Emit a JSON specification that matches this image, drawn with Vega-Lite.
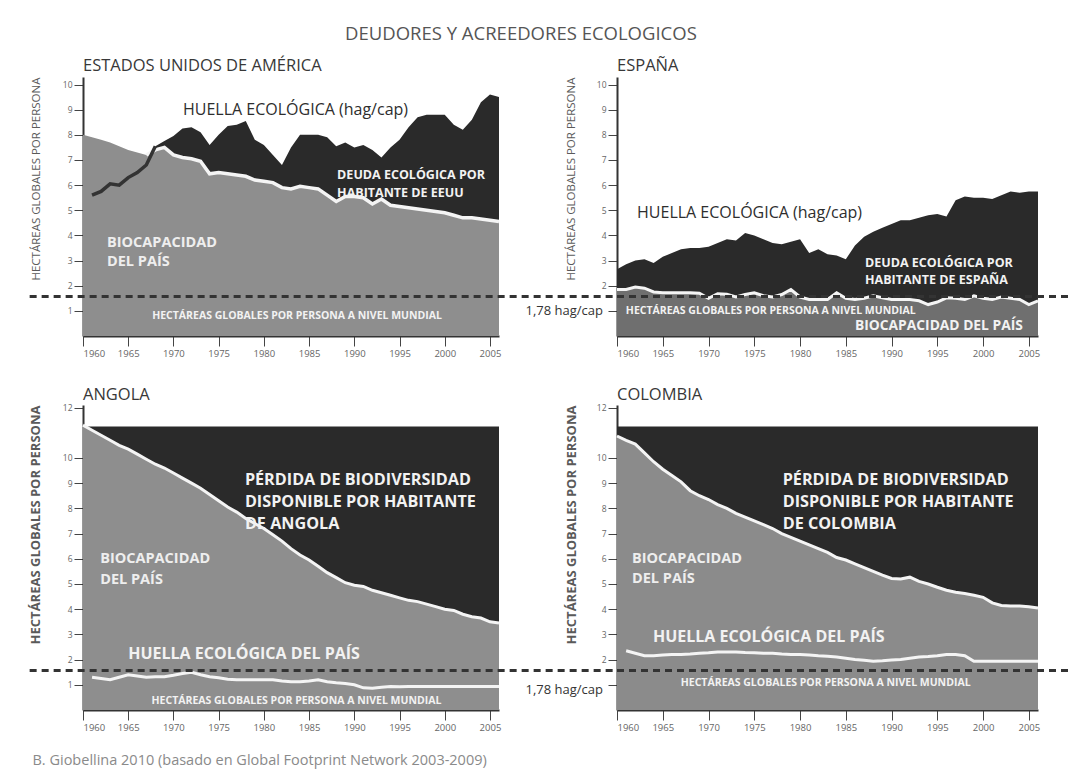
{
  "$schema": "https://vega.github.io/schema/vega-lite/v6.json",
  "background": "white",
  "padding": {"left": 28, "top": 25, "right": 0, "bottom": 2},
  "bounds": "flush",
  "columns": 2,
  "spacing": {"row": 69, "column": 118},
  "title": {"text": "DEUDORES Y ACREEDORES ECOLOGICOS", "anchor": "middle", "frame": "bounds", "dx": -28, "offset": 14, "fontSize": 18.5, "fontWeight": "normal", "color": "#555555", "font": "Open Sans"},
  "datasets": {
    "usa": [
      {"year": 1960, "bio": 8.0, "foot": null},
      {"year": 1961, "bio": 7.9, "foot": 5.6},
      {"year": 1962, "bio": 7.8, "foot": 5.75},
      {"year": 1963, "bio": 7.7, "foot": 6.05},
      {"year": 1964, "bio": 7.55, "foot": 6.0},
      {"year": 1965, "bio": 7.4, "foot": 6.3},
      {"year": 1966, "bio": 7.3, "foot": 6.5},
      {"year": 1967, "bio": 7.2, "foot": 6.8},
      {"year": 1968, "bio": 7.4, "foot": 7.55},
      {"year": 1969, "bio": 7.5, "foot": 7.75},
      {"year": 1970, "bio": 7.2, "foot": 7.95},
      {"year": 1971, "bio": 7.1, "foot": 8.25},
      {"year": 1972, "bio": 7.05, "foot": 8.3},
      {"year": 1973, "bio": 6.95, "foot": 8.1},
      {"year": 1974, "bio": 6.45, "foot": 7.6},
      {"year": 1975, "bio": 6.5, "foot": 8.0},
      {"year": 1976, "bio": 6.45, "foot": 8.35},
      {"year": 1977, "bio": 6.4, "foot": 8.4},
      {"year": 1978, "bio": 6.35, "foot": 8.55},
      {"year": 1979, "bio": 6.2, "foot": 7.8},
      {"year": 1980, "bio": 6.15, "foot": 7.6},
      {"year": 1981, "bio": 6.1, "foot": 7.2},
      {"year": 1982, "bio": 5.9, "foot": 6.8},
      {"year": 1983, "bio": 5.85, "foot": 7.5},
      {"year": 1984, "bio": 5.95, "foot": 8.0},
      {"year": 1985, "bio": 5.9, "foot": 8.0},
      {"year": 1986, "bio": 5.85, "foot": 8.0},
      {"year": 1987, "bio": 5.6, "foot": 7.9},
      {"year": 1988, "bio": 5.35, "foot": 7.55},
      {"year": 1989, "bio": 5.55, "foot": 7.7},
      {"year": 1990, "bio": 5.55, "foot": 7.5},
      {"year": 1991, "bio": 5.5, "foot": 7.6},
      {"year": 1992, "bio": 5.25, "foot": 7.4},
      {"year": 1993, "bio": 5.45, "foot": 7.1},
      {"year": 1994, "bio": 5.2, "foot": 7.5},
      {"year": 1995, "bio": 5.15, "foot": 7.8},
      {"year": 1996, "bio": 5.1, "foot": 8.3},
      {"year": 1997, "bio": 5.05, "foot": 8.7},
      {"year": 1998, "bio": 5.0, "foot": 8.8},
      {"year": 1999, "bio": 4.95, "foot": 8.8},
      {"year": 2000, "bio": 4.9, "foot": 8.8},
      {"year": 2001, "bio": 4.8, "foot": 8.4},
      {"year": 2002, "bio": 4.7, "foot": 8.2},
      {"year": 2003, "bio": 4.7, "foot": 8.6},
      {"year": 2004, "bio": 4.65, "foot": 9.3},
      {"year": 2005, "bio": 4.6, "foot": 9.6},
      {"year": 2006, "bio": 4.55, "foot": 9.5}
    ],
    "esp": [
      {"year": 1960, "bio": 1.85, "foot": 2.65},
      {"year": 1961, "bio": 1.85, "foot": 2.85},
      {"year": 1962, "bio": 1.95, "foot": 3.0},
      {"year": 1963, "bio": 1.9, "foot": 3.05},
      {"year": 1964, "bio": 1.75, "foot": 2.9},
      {"year": 1965, "bio": 1.72, "foot": 3.15},
      {"year": 1966, "bio": 1.72, "foot": 3.3},
      {"year": 1967, "bio": 1.72, "foot": 3.45},
      {"year": 1968, "bio": 1.72, "foot": 3.5},
      {"year": 1969, "bio": 1.7, "foot": 3.5},
      {"year": 1970, "bio": 1.5, "foot": 3.55},
      {"year": 1971, "bio": 1.68, "foot": 3.7},
      {"year": 1972, "bio": 1.66, "foot": 3.85},
      {"year": 1973, "bio": 1.55, "foot": 3.8},
      {"year": 1974, "bio": 1.65, "foot": 4.1},
      {"year": 1975, "bio": 1.72, "foot": 4.0},
      {"year": 1976, "bio": 1.6, "foot": 3.85},
      {"year": 1977, "bio": 1.55, "foot": 3.7},
      {"year": 1978, "bio": 1.65, "foot": 3.65},
      {"year": 1979, "bio": 1.85, "foot": 3.75},
      {"year": 1980, "bio": 1.55, "foot": 3.85},
      {"year": 1981, "bio": 1.45, "foot": 3.3},
      {"year": 1982, "bio": 1.45, "foot": 3.45},
      {"year": 1983, "bio": 1.45, "foot": 3.25},
      {"year": 1984, "bio": 1.72, "foot": 3.2},
      {"year": 1985, "bio": 1.5, "foot": 3.05},
      {"year": 1986, "bio": 1.45, "foot": 3.6},
      {"year": 1987, "bio": 1.5, "foot": 3.95},
      {"year": 1988, "bio": 1.6, "foot": 4.15},
      {"year": 1989, "bio": 1.52, "foot": 4.3},
      {"year": 1990, "bio": 1.45, "foot": 4.45},
      {"year": 1991, "bio": 1.45, "foot": 4.6},
      {"year": 1992, "bio": 1.45, "foot": 4.6},
      {"year": 1993, "bio": 1.4, "foot": 4.7},
      {"year": 1994, "bio": 1.25, "foot": 4.8},
      {"year": 1995, "bio": 1.35, "foot": 4.85},
      {"year": 1996, "bio": 1.52, "foot": 4.75},
      {"year": 1997, "bio": 1.5, "foot": 5.4},
      {"year": 1998, "bio": 1.45, "foot": 5.55},
      {"year": 1999, "bio": 1.6, "foot": 5.5},
      {"year": 2000, "bio": 1.5, "foot": 5.5},
      {"year": 2001, "bio": 1.45, "foot": 5.45},
      {"year": 2002, "bio": 1.55, "foot": 5.6},
      {"year": 2003, "bio": 1.5, "foot": 5.75},
      {"year": 2004, "bio": 1.45, "foot": 5.7},
      {"year": 2005, "bio": 1.25, "foot": 5.75},
      {"year": 2006, "bio": 1.4, "foot": 5.75}
    ],
    "ago": [
      {"year": 1960, "bio": 11.3, "foot": null},
      {"year": 1961, "bio": 11.1, "foot": 1.3},
      {"year": 1962, "bio": 10.9, "foot": 1.25},
      {"year": 1963, "bio": 10.7, "foot": 1.2},
      {"year": 1964, "bio": 10.5, "foot": 1.3},
      {"year": 1965, "bio": 10.35, "foot": 1.4},
      {"year": 1966, "bio": 10.15, "foot": 1.35},
      {"year": 1967, "bio": 9.95, "foot": 1.3},
      {"year": 1968, "bio": 9.75, "foot": 1.32},
      {"year": 1969, "bio": 9.6, "foot": 1.32},
      {"year": 1970, "bio": 9.4, "foot": 1.38},
      {"year": 1971, "bio": 9.2, "foot": 1.45},
      {"year": 1972, "bio": 9.0, "foot": 1.5},
      {"year": 1973, "bio": 8.8, "foot": 1.4},
      {"year": 1974, "bio": 8.55, "foot": 1.32},
      {"year": 1975, "bio": 8.3, "foot": 1.28},
      {"year": 1976, "bio": 8.05, "foot": 1.22},
      {"year": 1977, "bio": 7.85, "foot": 1.2},
      {"year": 1978, "bio": 7.6, "foot": 1.2},
      {"year": 1979, "bio": 7.4, "foot": 1.2},
      {"year": 1980, "bio": 7.2, "foot": 1.2},
      {"year": 1981, "bio": 6.95, "foot": 1.2},
      {"year": 1982, "bio": 6.7, "foot": 1.15},
      {"year": 1983, "bio": 6.4, "foot": 1.12},
      {"year": 1984, "bio": 6.15, "foot": 1.12},
      {"year": 1985, "bio": 5.95, "foot": 1.15},
      {"year": 1986, "bio": 5.7, "foot": 1.2},
      {"year": 1987, "bio": 5.45, "foot": 1.12},
      {"year": 1988, "bio": 5.25, "foot": 1.08},
      {"year": 1989, "bio": 5.05, "foot": 1.05},
      {"year": 1990, "bio": 4.95, "foot": 1.0},
      {"year": 1991, "bio": 4.9, "foot": 0.88},
      {"year": 1992, "bio": 4.75, "foot": 0.86},
      {"year": 1993, "bio": 4.65, "foot": 0.9},
      {"year": 1994, "bio": 4.55, "foot": 0.93},
      {"year": 1995, "bio": 4.45, "foot": 0.92},
      {"year": 1996, "bio": 4.35, "foot": 0.93},
      {"year": 1997, "bio": 4.3, "foot": 0.93},
      {"year": 1998, "bio": 4.2, "foot": 0.93},
      {"year": 1999, "bio": 4.1, "foot": 0.93},
      {"year": 2000, "bio": 4.0, "foot": 0.93},
      {"year": 2001, "bio": 3.95, "foot": 0.93},
      {"year": 2002, "bio": 3.8, "foot": 0.93},
      {"year": 2003, "bio": 3.7, "foot": 0.93},
      {"year": 2004, "bio": 3.65, "foot": 0.93},
      {"year": 2005, "bio": 3.5, "foot": 0.93},
      {"year": 2006, "bio": 3.45, "foot": 0.93}
    ],
    "col": [
      {"year": 1960, "bio": 10.87, "foot": null},
      {"year": 1961, "bio": 10.7, "foot": 2.35},
      {"year": 1962, "bio": 10.55, "foot": 2.25},
      {"year": 1963, "bio": 10.2, "foot": 2.15},
      {"year": 1964, "bio": 9.85, "foot": 2.15},
      {"year": 1965, "bio": 9.55, "foot": 2.18},
      {"year": 1966, "bio": 9.3, "foot": 2.2},
      {"year": 1967, "bio": 9.05, "foot": 2.2},
      {"year": 1968, "bio": 8.7, "foot": 2.22},
      {"year": 1969, "bio": 8.5, "foot": 2.25},
      {"year": 1970, "bio": 8.35, "foot": 2.27},
      {"year": 1971, "bio": 8.15, "foot": 2.3},
      {"year": 1972, "bio": 8.0, "foot": 2.3},
      {"year": 1973, "bio": 7.8, "foot": 2.3},
      {"year": 1974, "bio": 7.65, "foot": 2.28},
      {"year": 1975, "bio": 7.5, "foot": 2.27},
      {"year": 1976, "bio": 7.35, "foot": 2.25},
      {"year": 1977, "bio": 7.2, "foot": 2.25},
      {"year": 1978, "bio": 7.0, "foot": 2.22},
      {"year": 1979, "bio": 6.85, "foot": 2.2},
      {"year": 1980, "bio": 6.7, "foot": 2.2},
      {"year": 1981, "bio": 6.55, "foot": 2.18},
      {"year": 1982, "bio": 6.4, "foot": 2.15},
      {"year": 1983, "bio": 6.25, "foot": 2.13},
      {"year": 1984, "bio": 6.05, "foot": 2.1},
      {"year": 1985, "bio": 5.95, "foot": 2.05},
      {"year": 1986, "bio": 5.8, "foot": 2.0},
      {"year": 1987, "bio": 5.65, "foot": 1.97},
      {"year": 1988, "bio": 5.5, "foot": 1.93},
      {"year": 1989, "bio": 5.35, "foot": 1.95},
      {"year": 1990, "bio": 5.22, "foot": 1.98},
      {"year": 1991, "bio": 5.2, "foot": 2.0},
      {"year": 1992, "bio": 5.27, "foot": 2.05},
      {"year": 1993, "bio": 5.1, "foot": 2.1},
      {"year": 1994, "bio": 5.0, "foot": 2.12},
      {"year": 1995, "bio": 4.87, "foot": 2.15},
      {"year": 1996, "bio": 4.75, "foot": 2.2},
      {"year": 1997, "bio": 4.67, "foot": 2.2},
      {"year": 1998, "bio": 4.62, "foot": 2.15},
      {"year": 1999, "bio": 4.55, "foot": 1.93},
      {"year": 2000, "bio": 4.47, "foot": 1.93},
      {"year": 2001, "bio": 4.25, "foot": 1.93},
      {"year": 2002, "bio": 4.15, "foot": 1.93},
      {"year": 2003, "bio": 4.13, "foot": 1.93},
      {"year": 2004, "bio": 4.13, "foot": 1.93},
      {"year": 2005, "bio": 4.1, "foot": 1.93},
      {"year": 2006, "bio": 4.05, "foot": 1.93}
    ]
  },
  "concat": [
    {
      "width": 416, "height": 259,
      "title": {"text": "ESTADOS UNIDOS DE AMÉRICA", "anchor": "start", "frame": "group", "offset": 3, "fontSize": 16.5, "fontWeight": "normal", "color": "#383838", "font": "Open Sans"},
      "data": {"name": "usa"},
      "layer": [
        {"mark": {"type": "area", "color": "#8e8e8e"},
         "encoding": {
           "x": {"field": "year", "type": "quantitative", "scale": {"domain": [1960, 2006], "nice": false, "zero": false},
                 "axis": {"title": null, "values": [1960, 1965, 1970, 1975, 1980, 1985, 1990, 1995, 2000, 2005], "tickCount": 50, "format": "d", "tickSize": 10, "labelFontSize": 9.5, "labelPadding": 2, "labelOverlap": false}},
           "y": {"field": "bio", "type": "quantitative", "scale": {"domain": [0, 10.3], "nice": false},
                 "axis": {"title": "HECTÁREAS GLOBALES POR PERSONA", "titleFontSize": 11.5, "titleAnchor": "end", "titlePadding": 21, "values": [1, 2, 3, 4, 5, 6, 7, 8, 9, 10], "tickCount": 50, "format": "d", "tickSize": 9, "labelFontSize": 8.5, "labelPadding": 2, "labelOverlap": false}}}},
        {"transform": [{"filter": "datum.year >= 1968"}],
         "mark": {"type": "area", "color": "#2a2a2a"},
         "encoding": {"x": {"field": "year", "type": "quantitative"}, "y": {"field": "bio", "type": "quantitative"}, "y2": {"field": "foot"}}},
        {"transform": [{"filter": "datum.year >= 1967"}],
         "mark": {"type": "line", "color": "#f4f4f4", "strokeWidth": 3.5},
         "encoding": {"x": {"field": "year", "type": "quantitative"}, "y": {"field": "bio", "type": "quantitative"}}},
        {"transform": [{"filter": "datum.year <= 1968 && datum.foot != null"}],
         "mark": {"type": "line", "color": "#333333", "strokeWidth": 3.5},
         "encoding": {"x": {"field": "year", "type": "quantitative"}, "y": {"field": "foot", "type": "quantitative"}}},
        {"data": {"values": [{}]},
         "mark": {"type": "rule", "strokeDash": [7, 5], "strokeWidth": 3, "color": "#333333"},
         "encoding": {"x": {"datum": 1954.1}, "x2": {"datum": 2019.2}, "y": {"datum": 1.57}}},
        {"data": {"values": [{}]},
         "mark": {"type": "text", "text": "HUELLA ECOLÓGICA (hag/cap)", "align": "left", "baseline": "middle", "font": "Open Sans", "fontSize": 16, "color": "#2e2e2e"},
         "encoding": {"x": {"datum": 1971.06}, "y": {"datum": 9.0}}},
        {"data": {"values": [{}]},
         "mark": {"type": "text", "text": ["DEUDA ECOLÓGICA POR", "HABITANTE DE EEUU"], "lineHeight": 18, "align": "left", "baseline": "middle", "font": "Open Sans", "fontWeight": "bold", "fontSize": 12.5, "color": "#f2f2f2"},
         "encoding": {"x": {"datum": 1988.1}, "y": {"datum": 6.41}}},
        {"data": {"values": [{}]},
         "mark": {"type": "text", "text": ["BIOCAPACIDAD", "DEL PAÍS"], "lineHeight": 19, "align": "left", "baseline": "middle", "font": "Open Sans", "fontWeight": "bold", "fontSize": 14.5, "color": "#eeeeee"},
         "encoding": {"x": {"datum": 1962.65}, "y": {"datum": 3.69}}},
        {"data": {"values": [{}]},
         "mark": {"type": "text", "text": "HECTÁREAS GLOBALES POR PERSONA A NIVEL MUNDIAL", "align": "center", "baseline": "middle", "font": "Open Sans", "fontWeight": "bold", "fontSize": 10.5, "color": "#f2f2f2"},
         "encoding": {"x": {"datum": 1983.67}, "y": {"datum": 0.8}}}
      ]
    },
    {
      "width": 421, "height": 259,
      "title": {"text": "ESPAÑA", "anchor": "start", "frame": "group", "offset": 3, "fontSize": 16.5, "fontWeight": "normal", "color": "#383838", "font": "Open Sans"},
      "data": {"name": "esp"},
      "layer": [
        {"mark": {"type": "area", "color": "#6f6f6f"},
         "encoding": {
           "x": {"field": "year", "type": "quantitative", "scale": {"domain": [1960, 2006], "nice": false, "zero": false},
                 "axis": {"title": null, "values": [1960, 1965, 1970, 1975, 1980, 1985, 1990, 1995, 2000, 2005], "tickCount": 50, "format": "d", "tickSize": 10, "labelFontSize": 9.5, "labelPadding": 2, "labelOverlap": false}},
           "y": {"field": "bio", "type": "quantitative", "scale": {"domain": [0, 10.3], "nice": false},
                 "axis": {"title": "HECTÁREAS GLOBALES POR PERSONA", "titleFontSize": 11.5, "titleAnchor": "end", "titlePadding": 20, "values": [1, 2, 3, 4, 5, 6, 7, 8, 9, 10], "tickCount": 50, "format": "d", "labelExpr": "datum.value == 1 ? '' : datum.label", "tickSize": 9, "labelFontSize": 8.5, "labelPadding": 2, "labelOverlap": false}}}},
        {"mark": {"type": "area", "color": "#2a2a2a"},
         "encoding": {"x": {"field": "year", "type": "quantitative"}, "y": {"field": "bio", "type": "quantitative"}, "y2": {"field": "foot"}}},
        {"mark": {"type": "line", "color": "#f4f4f4", "strokeWidth": 3},
         "encoding": {"x": {"field": "year", "type": "quantitative"}, "y": {"field": "bio", "type": "quantitative"}}},
        {"data": {"values": [{}]},
         "mark": {"type": "rule", "strokeDash": [7, 5], "strokeWidth": 3, "color": "#333333"},
         "encoding": {"x": {"datum": 1960}, "x2": {"datum": 2009.3}, "y": {"datum": 1.57}}},
        {"data": {"values": [{}]},
         "mark": {"type": "text", "text": "HUELLA ECOLÓGICA (hag/cap)", "align": "left", "baseline": "middle", "font": "Open Sans", "fontSize": 16, "color": "#2e2e2e"},
         "encoding": {"x": {"datum": 1962.19}, "y": {"datum": 4.88}}},
        {"data": {"values": [{}]},
         "mark": {"type": "text", "text": ["DEUDA ECOLÓGICA POR", "HABITANTE DE  ESPAÑA"], "lineHeight": 17, "align": "left", "baseline": "middle", "font": "Open Sans", "fontWeight": "bold", "fontSize": 12.5, "color": "#f2f2f2"},
         "encoding": {"x": {"datum": 1987.1}, "y": {"datum": 2.9}}},
        {"data": {"values": [{}]},
         "mark": {"type": "text", "text": "HECTÁREAS GLOBALES POR PERSONA A NIVEL MUNDIAL", "align": "center", "baseline": "middle", "font": "Open Sans", "fontWeight": "bold", "fontSize": 10.5, "color": "#f2f2f2"},
         "encoding": {"x": {"datum": 1976.8}, "y": {"datum": 1.0}}},
        {"data": {"values": [{}]},
         "mark": {"type": "text", "text": "BIOCAPACIDAD DEL PAÍS", "align": "left", "baseline": "middle", "font": "Open Sans", "fontWeight": "bold", "fontSize": 13.8, "color": "#f2f2f2"},
         "encoding": {"x": {"datum": 1986.0}, "y": {"datum": 0.4}}},
        {"data": {"values": [{}]},
         "mark": {"type": "text", "text": "1,78 hag/cap", "align": "right", "baseline": "middle", "font": "Open Sans", "fontSize": 13, "color": "#333333"},
         "encoding": {"x": {"datum": 1958.47}, "y": {"datum": 1.0}}}
      ]
    },
    {
      "width": 416, "height": 305,
      "title": {"text": "ANGOLA", "anchor": "start", "frame": "group", "offset": 0, "fontSize": 16.5, "fontWeight": "normal", "color": "#383838", "font": "Open Sans"},
      "data": {"name": "ago"},
      "layer": [
        {"mark": {"type": "area", "color": "#8e8e8e"},
         "encoding": {
           "x": {"field": "year", "type": "quantitative", "scale": {"domain": [1960, 2006], "nice": false, "zero": false},
                 "axis": {"title": "B. Giobellina 2010 (basado en Global Footprint Network 2003-2009)", "titleFontSize": 14.5, "titleFontWeight": "normal", "titleColor": "#8a8a8a", "titleAnchor": "start", "titleAlign": "left", "titleX": -51, "titlePadding": 22, "values": [1960, 1965, 1970, 1975, 1980, 1985, 1990, 1995, 2000, 2005], "tickCount": 50, "format": "d", "tickSize": 10, "labelFontSize": 9.5, "labelPadding": 2, "labelOverlap": false}},
           "y": {"field": "bio", "type": "quantitative", "scale": {"domain": [0, 12.1], "nice": false},
                 "axis": {"title": "HECTÁREAS GLOBALES POR PERSONA", "titleFontSize": 13, "titleFontWeight": "bold", "titleAnchor": "end", "titlePadding": 20, "values": [1, 2, 3, 4, 5, 6, 7, 8, 9, 10, 12], "tickCount": 50, "format": "d", "tickSize": 9, "labelFontSize": 8.5, "labelPadding": 2, "labelOverlap": false}}}},
        {"mark": {"type": "area", "color": "#2a2a2a"},
         "encoding": {"x": {"field": "year", "type": "quantitative"}, "y": {"field": "bio", "type": "quantitative"}, "y2": {"datum": 11.25}}},
        {"mark": {"type": "line", "color": "#f4f4f4", "strokeWidth": 3},
         "encoding": {"x": {"field": "year", "type": "quantitative"}, "y": {"field": "bio", "type": "quantitative"}}},
        {"transform": [{"filter": "datum.foot != null"}],
         "mark": {"type": "line", "color": "#f4f4f4", "strokeWidth": 3},
         "encoding": {"x": {"field": "year", "type": "quantitative"}, "y": {"field": "foot", "type": "quantitative"}}},
        {"data": {"values": [{}]},
         "mark": {"type": "rule", "strokeDash": [7, 5], "strokeWidth": 3, "color": "#333333"},
         "encoding": {"x": {"datum": 1954.1}, "x2": {"datum": 2019.2}, "y": {"datum": 1.57}}},
        {"data": {"values": [{}]},
         "mark": {"type": "text", "text": ["PÉRDIDA DE BIODIVERSIDAD", "DISPONIBLE POR HABITANTE", "DE ANGOLA"], "lineHeight": 22, "align": "left", "baseline": "middle", "font": "Open Sans", "fontWeight": "bold", "fontSize": 16.2, "color": "#f2f2f2"},
         "encoding": {"x": {"datum": 1977.9}, "y": {"datum": 9.14}}},
        {"data": {"values": [{}]},
         "mark": {"type": "text", "text": ["BIOCAPACIDAD", "DEL PAÍS"], "lineHeight": 21, "align": "left", "baseline": "middle", "font": "Open Sans", "fontWeight": "bold", "fontSize": 14.5, "color": "#eeeeee"},
         "encoding": {"x": {"datum": 1961.9}, "y": {"datum": 5.98}}},
        {"data": {"values": [{}]},
         "mark": {"type": "text", "text": "HUELLA ECOLÓGICA DEL PAÍS", "align": "left", "baseline": "middle", "font": "Open Sans", "fontWeight": "bold", "fontSize": 16, "color": "#f2f2f2"},
         "encoding": {"x": {"datum": 1965.0}, "y": {"datum": 2.22}}},
        {"data": {"values": [{}]},
         "mark": {"type": "text", "text": "HECTÁREAS GLOBALES POR PERSONA A NIVEL MUNDIAL", "align": "center", "baseline": "middle", "font": "Open Sans", "fontWeight": "bold", "fontSize": 10.5, "color": "#f2f2f2"},
         "encoding": {"x": {"datum": 1983.6}, "y": {"datum": 0.36}}}
      ]
    },
    {
      "width": 421, "height": 305,
      "title": {"text": "COLOMBIA", "anchor": "start", "frame": "group", "offset": 0, "fontSize": 16.5, "fontWeight": "normal", "color": "#383838", "font": "Open Sans"},
      "data": {"name": "col"},
      "layer": [
        {"mark": {"type": "area", "color": "#8b8b8b"},
         "encoding": {
           "x": {"field": "year", "type": "quantitative", "scale": {"domain": [1960, 2006], "nice": false, "zero": false},
                 "axis": {"title": null, "values": [1960, 1965, 1970, 1975, 1980, 1985, 1990, 1995, 2000, 2005], "tickCount": 50, "format": "d", "tickSize": 10, "labelFontSize": 9.5, "labelPadding": 2, "labelOverlap": false}},
           "y": {"field": "bio", "type": "quantitative", "scale": {"domain": [0, 12.1], "nice": false},
                 "axis": {"title": "HECTÁREAS GLOBALES POR PERSONA", "titleFontSize": 13, "titleFontWeight": "bold", "titleAnchor": "end", "titlePadding": 18, "values": [1, 2, 3, 4, 5, 6, 7, 8, 9, 10, 12], "tickCount": 50, "format": "d", "labelExpr": "datum.value == 1 ? '' : datum.label", "tickSize": 9, "labelFontSize": 8.5, "labelPadding": 2, "labelOverlap": false}}}},
        {"mark": {"type": "area", "color": "#2a2a2a"},
         "encoding": {"x": {"field": "year", "type": "quantitative"}, "y": {"field": "bio", "type": "quantitative"}, "y2": {"datum": 11.25}}},
        {"mark": {"type": "line", "color": "#f4f4f4", "strokeWidth": 3},
         "encoding": {"x": {"field": "year", "type": "quantitative"}, "y": {"field": "bio", "type": "quantitative"}}},
        {"transform": [{"filter": "datum.foot != null"}],
         "mark": {"type": "line", "color": "#f4f4f4", "strokeWidth": 3},
         "encoding": {"x": {"field": "year", "type": "quantitative"}, "y": {"field": "foot", "type": "quantitative"}}},
        {"data": {"values": [{}]},
         "mark": {"type": "rule", "strokeDash": [7, 5], "strokeWidth": 3, "color": "#333333"},
         "encoding": {"x": {"datum": 1960}, "x2": {"datum": 2009.3}, "y": {"datum": 1.57}}},
        {"data": {"values": [{}]},
         "mark": {"type": "text", "text": ["PÉRDIDA DE BIODIVERSIDAD", "DISPONIBLE POR HABITANTE", "DE COLOMBIA"], "lineHeight": 22, "align": "left", "baseline": "middle", "font": "Open Sans", "fontWeight": "bold", "fontSize": 16.2, "color": "#f2f2f2"},
         "encoding": {"x": {"datum": 1978.1}, "y": {"datum": 9.14}}},
        {"data": {"values": [{}]},
         "mark": {"type": "text", "text": ["BIOCAPACIDAD", "DEL PAÍS"], "lineHeight": 20, "align": "left", "baseline": "middle", "font": "Open Sans", "fontWeight": "bold", "fontSize": 14.5, "color": "#eeeeee"},
         "encoding": {"x": {"datum": 1961.64}, "y": {"datum": 6.0}}},
        {"data": {"values": [{}]},
         "mark": {"type": "text", "text": "HUELLA ECOLÓGICA DEL PAÍS", "align": "left", "baseline": "middle", "font": "Open Sans", "fontWeight": "bold", "fontSize": 16, "color": "#f2f2f2"},
         "encoding": {"x": {"datum": 1963.93}, "y": {"datum": 2.9}}},
        {"data": {"values": [{}]},
         "mark": {"type": "text", "text": "HECTÁREAS GLOBALES POR PERSONA A NIVEL MUNDIAL", "align": "center", "baseline": "middle", "font": "Open Sans", "fontWeight": "bold", "fontSize": 10.5, "color": "#f2f2f2"},
         "encoding": {"x": {"datum": 1982.8}, "y": {"datum": 1.07}}},
        {"data": {"values": [{}]},
         "mark": {"type": "text", "text": "1,78 hag/cap", "align": "right", "baseline": "middle", "font": "Open Sans", "fontSize": 13, "color": "#333333"},
         "encoding": {"x": {"datum": 1958.47}, "y": {"datum": 0.8}}}
      ]
    }
  ],
  "config": {
    "view": {"stroke": null},
    "font": "Open Sans",
    "axis": {"grid": false, "domainColor": "#333333", "domainWidth": 2, "tickColor": "#444444", "tickWidth": 1, "labelColor": "#666666", "labelFont": "Open Sans", "titleFont": "Open Sans", "titleColor": "#5a5a5a", "titleFontWeight": "normal"}
  }
}
